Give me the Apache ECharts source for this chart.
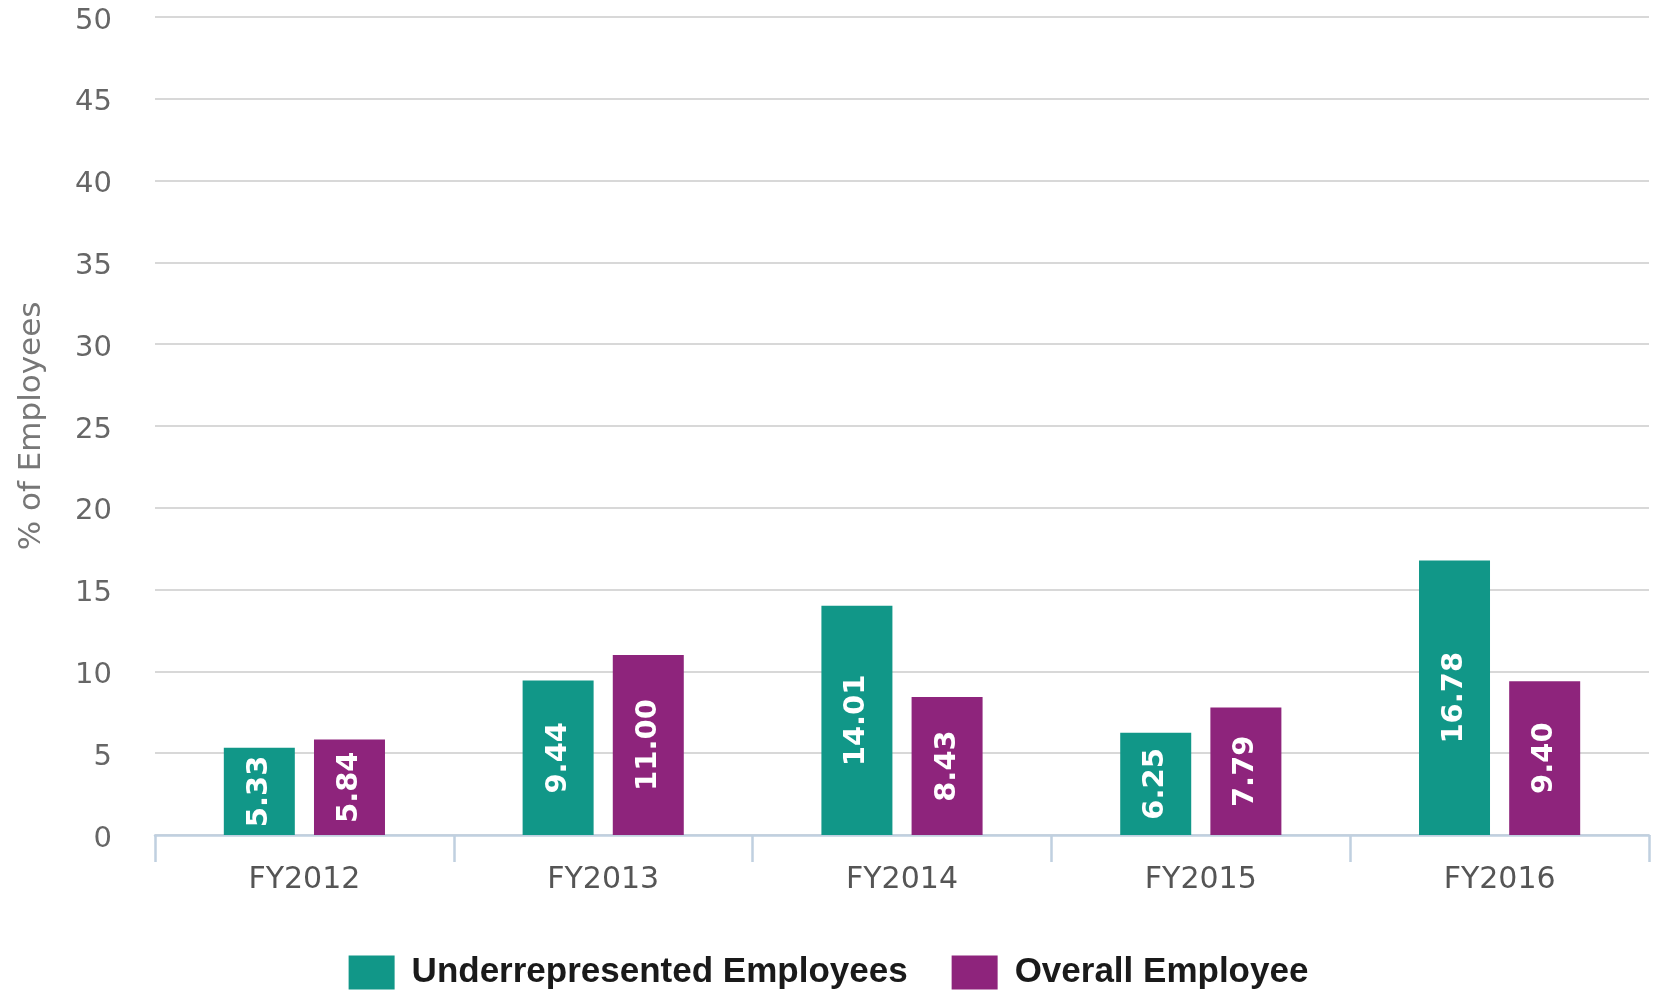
<!DOCTYPE html>
<html>
<head>
<meta charset="utf-8">
<script src="https://cdn.jsdelivr.net/npm/echarts@6/dist/echarts.min.js"></script>
<style>
html,body{margin:0;padding:0;background:#fff;}
#chart{width:1657px;height:990px;}
</style>
</head>
<body>
<div id="chart"></div>
<script>
const categories = ['FY2012', 'FY2013', 'FY2014', 'FY2015', 'FY2016'];
const underrepresented = [5.33, 9.44, 14.01, 6.25, 16.78];
const overall = [5.84, 11.00, 8.43, 7.79, 9.40];
const seriesNames = ['Underrepresented Employees', 'Overall Employee'];
const yTicks = { min: 0, max: 50, interval: 5 };
const yTitle = '% of Employees';

const chart = echarts.init(document.getElementById('chart'), null, { renderer: 'canvas' });

const barLabel = {
  show: true,
  position: 'inside',
  rotate: 90,
  color: '#ffffff',
  fontFamily: 'DejaVu Sans',
  fontWeight: 'bold',
  fontSize: 29,
  formatter: p => p.value.toFixed(2)
};

chart.setOption({
  animation: false,
  grid: { left: 155, right: 8, top: 17, bottom: 155, containLabel: false },
  legend: {
    top: 950,
    left: 'center',
    itemWidth: 46,
    itemHeight: 34,
    itemGap: 44,
    icon: 'rect',
    textStyle: {
      fontFamily: 'Liberation Sans',
      fontWeight: 'bold',
      fontSize: 35,
      color: '#1a1a1a',
      padding: [0, 0, 0, 12]
    },
    data: seriesNames
  },
  xAxis: {
    type: 'category',
    data: categories,
    axisLine: { lineStyle: { color: '#c0d0e0', width: 2.5 } },
    axisTick: { show: true, length: 27, lineStyle: { color: '#c0d0e0', width: 2.5 } },
    axisLabel: { fontFamily: 'DejaVu Sans', fontSize: 30, color: '#555555', margin: 30 },
    splitLine: { show: false }
  },
  yAxis: {
    type: 'value',
    min: yTicks.min,
    max: yTicks.max,
    interval: yTicks.interval,
    name: yTitle,
    nameLocation: 'middle',
    nameGap: 108,
    nameRotate: 90,
    nameTextStyle: { fontFamily: 'DejaVu Sans', fontSize: 31, color: '#777777' },
    axisLine: { show: false },
    axisTick: { show: false },
    axisLabel: {
      fontFamily: 'DejaVu Sans', fontSize: 29, color: '#666666', margin: 43,
      formatter: v => '{v|' + v + '}',
      rich: { v: { fontFamily: 'DejaVu Sans', fontSize: 29, color: '#666666', padding: [8, 0, 0, 0] } }
    },
    splitLine: { lineStyle: { color: '#d8d8d8', width: 2 } }
  },
  series: [
    {
      name: seriesNames[0],
      type: 'bar',
      data: underrepresented,
      barWidth: 71,
      barGap: '27%',
      itemStyle: { color: '#119788' },
      label: barLabel
    },
    {
      name: seriesNames[1],
      type: 'bar',
      data: overall,
      barWidth: 71,
      itemStyle: { color: '#8e247c' },
      label: barLabel
    }
  ]
});
</script>
</body>
</html>
